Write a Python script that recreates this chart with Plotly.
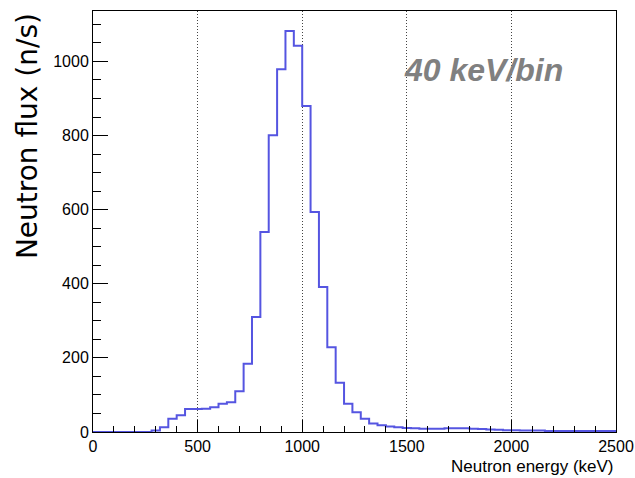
import numpy as np
import plotly.graph_objects as go

# Histogram: 40 keV bins starting at 0 keV
bin_width = 40
counts = [0, 0, 0, 0, 0, 0, 0,
          4, 13, 36, 45, 62, 62, 63, 67, 76, 80, 110, 184, 310, 540,
          801, 979, 1082, 1042, 880, 594, 391, 229, 133, 76, 53, 36, 23,
          18, 15, 13, 11, 10, 9, 9, 9, 10, 10, 10, 9, 8, 7, 6, 5, 5,
          4, 4, 4, 3, 3, 3, 3, 3, 3, 3, 3, 3]
x_tick_vals = [0, 500, 1000, 1500, 2000, 2500]
y_tick_vals = [0, 200, 400, 600, 800, 1000]

edges = np.arange(len(counts) + 1) * bin_width
xs = list(edges)
ys = list(counts) + [counts[-1]]
# close outline to baseline at both ends like ROOT
xs = [edges[0]] + xs + [edges[-1]]
ys = [0] + ys + [0]

FONT = "Liberation Sans, Arial, Helvetica, sans-serif"

fig = go.Figure()
fig.add_trace(go.Scatter(x=xs, y=ys, mode="lines", line_shape="hv",
                         line=dict(color="rgb(85,85,225)", width=2),
                         hoverinfo="skip", showlegend=False))

ymax = max(counts) * 1.05

fig.update_layout(
    width=635, height=478, autosize=False,
    margin=dict(l=93, r=19, t=11, b=46),
    paper_bgcolor="white", plot_bgcolor="white",
    font=dict(family=FONT, size=16, color="black"),
    xaxis=dict(range=[0, 2500], tickvals=x_tick_vals, automargin=False,
               ticks="inside", ticklen=12, tickwidth=1, tickcolor="black",
               minor=dict(dtick=100, ticks="inside", ticklen=6, tickcolor="black", showgrid=False),
               showgrid=True, gridcolor="#444444", griddash="1px,2px", gridwidth=1,
               showline=True, linecolor="black", linewidth=1, mirror=True,
               zeroline=False, tickfont=dict(size=16)),
    yaxis=dict(range=[0, ymax], tickvals=y_tick_vals, automargin=False,
               ticks="inside", ticklen=15, tickwidth=1, tickcolor="black",
               minor=dict(dtick=50, ticks="inside", ticklen=8, tickcolor="black", showgrid=False),
               showgrid=False,
               showline=True, linecolor="black", linewidth=1, mirror=True,
               zeroline=False, tickfont=dict(size=16)),
    annotations=[
        dict(text="Neutron flux (n/s)", xref="paper", yref="paper",
             x=-0.126, y=1.0, xanchor="center", yanchor="top", textangle=-90,
             showarrow=False, font=dict(size=28, family="DejaVu Sans, Arial, sans-serif")),
        dict(text="Neutron energy (keV)", xref="paper", yref="paper",
             x=1.0, y=-0.083, xanchor="right", yanchor="middle",
             showarrow=False, font=dict(size=17, family=FONT)),
        dict(text="<b><i>40 keV/bin</i></b>", xref="x", yref="y",
             x=1478, y=976, xanchor="left", yanchor="middle",
             showarrow=False, font=dict(size=32, family=FONT, color="rgb(128,128,128)")),
    ],
)

fig.write_html("out.html",
               config={"displayModeBar": False, "responsive": False},
               post_script="document.body.style.margin='0';document.body.style.overflow='hidden';")
